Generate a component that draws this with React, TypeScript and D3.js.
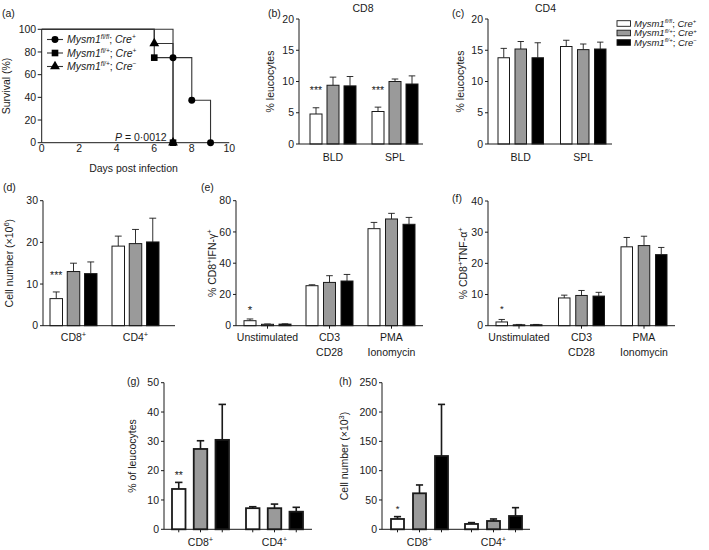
import React from 'react';
import * as d3 from 'd3';

const FONT = "'Liberation Sans', Arial, Helvetica, sans-serif";
const INK = '#1a1a1a';
const FILLS = ['#ffffff', '#9a9a9a', '#000000'];
const SERIES = [0, 1, 2];

// genotype legend
const genotypeAlleles = ['fl/fl', 'fl/+', 'fl/+'];
const genotypeCre = ['+', '+', '−'];

// (a) survival
const survivalXTicks = [0, 2, 4, 6, 8, 10];
const survivalYTicks = [0, 20, 40, 60, 80, 100];
const survFlflCrePosDays = [0, 7, 8, 9];
const survFlflCrePosPct = [100, 75, 37.5, 0];
const survFlpCrePosDays = [0, 6, 7];
const survFlpCrePosPct = [100, 75, 0];
const survFlpCreNegDays = [0, 6, 7];
const survFlpCreNegPct = [100, 87.5, 0];

// (b),(c)
const tissueGroups = ['BLD', 'SPL'];
const pctTicks20 = [0, 5, 10, 15, 20];
const cd8PctMean = [[4.8, 9.4, 9.3], [5.2, 10.0, 9.6]];
const cd8PctSem = [[1.0, 1.3, 1.5], [0.7, 0.4, 1.3]];
const cd4PctMean = [[13.8, 15.2, 13.8], [15.6, 15.1, 15.2]];
const cd4PctSem = [[1.5, 1.2, 2.4], [1.0, 0.9, 1.1]];

// (d)
const cellGroups = ['CD8+', 'CD4+'];
const countTicks30 = [0, 10, 20, 30];
const cellCountMean = [[6.5, 13.0, 12.5], [19.1, 19.7, 20.1]];
const cellCountSem = [[1.6, 2.0, 2.8], [2.4, 3.4, 5.7]];

// (e),(f)
const stimGroups = ['Unstimulated', 'CD3\nCD28', 'PMA\nIonomycin'];
const ifnTicks = [0, 20, 40, 60, 80];
const ifnMean = [[3.2, 0.9, 1.0], [25.6, 27.7, 28.6], [62.1, 68.3, 64.9]];
const ifnSem = [[1.1, 0.2, 0.2], [0.6, 4.3, 4.2], [4.0, 3.6, 4.4]];
const tnfTicks = [0, 10, 20, 30, 40];
const tnfMean = [[1.2, 0.3, 0.3], [8.9, 9.7, 9.5], [25.3, 25.7, 22.8]];
const tnfSem = [[0.8, 0.1, 0.1], [0.9, 1.6, 1.2], [3.0, 3.0, 2.3]];

// (g),(h)
const lungPctTicks = [0, 10, 20, 30, 40, 50];
const lungPctMean = [[13.75, 27.4, 30.5], [7.2, 7.2, 6.0]];
const lungPctSem = [[2.25, 2.8, 12.1], [0.5, 1.4, 1.5]];
const lungCountTicks = [0, 50, 100, 150, 200, 250];
const lungCountMean = [[17.6, 61.4, 125], [9.1, 14.2, 22.7]];
const lungCountSem = [[4.0, 14.2, 88], [2.3, 3.4, 14.2]];

// significance marks
const starsB = [{ group: 'BLD', label: '***', value: 9 }, { group: 'SPL', label: '***', value: 9 }];
const starsD = [{ group: 'CD8+', label: '***', value: 12.6 }];
const starsE = [{ group: 'Unstimulated', label: '*', value: 12 }];
const starsF = [{ group: 'Unstimulated', label: '*', value: 6.3 }];
const starsG = [{ group: 'CD8+', label: '**', value: 19.3 }];
const starsH = [{ group: 'CD8+', label: '*', value: 38.6 }];

function supPlus(s: string) {
  if (s.endsWith('+')) {
    return (
      <>
        {s.slice(0, -1)}
        <tspan dy={-4} fontSize={7.5}>+</tspan>
      </>
    );
  }
  return s;
}

function Geno({ i, size = 10 }: { i: number; size?: number }) {
  const sup = size * 0.62;
  const rise = size * 0.38;
  return (
    <>
      <tspan>Mysm1</tspan>
      <tspan dy={-rise} fontSize={sup}>{genotypeAlleles[i]}</tspan>
      <tspan dy={rise} fontStyle="normal">; </tspan>
      <tspan>Cre</tspan>
      <tspan dy={-rise} fontSize={sup}>{genotypeCre[i]}</tspan>
    </>
  );
}

type Star = { group: string; label: string; value: number };

interface BarPanelProps {
  tag: string; tagX: number; tagY: number;
  title?: string; titleX?: number;
  yTitle: React.ReactNode; yTitleX: number;
  axisX: number; axisEnd: number; y0: number; y1: number;
  yMax: number; yTicks: number[];
  groups: string[]; labelY: number;
  means: number[][]; sems: number[][];
  barStart: number; barEnd: number; groupW: number; barW: number;
  stroke: number; stars: Star[]; xTicks: 'none' | 'group' | 'bar';
  starSize?: number;
}

function BarPanel(p: BarPanelProps) {
  const y = d3.scaleLinear().domain([0, p.yMax]).range([p.y0, p.y1]);
  const n = p.groups.length;
  const gStep = (p.barEnd - p.barStart - p.groupW) / (n - 1);
  const gx = d3.scaleBand<string>().domain(p.groups).range([p.barStart, p.barEnd])
    .paddingInner(1 - p.groupW / gStep).paddingOuter(0);
  const bw = gx.bandwidth();
  const iStep = (bw - p.barW) / 2;
  const ix = d3.scaleBand<number>().domain(SERIES).range([0, bw])
    .paddingInner(1 - p.barW / iStep).paddingOuter(0);
  const w = ix.bandwidth();
  const capW = w * 0.55;
  const starSize = p.starSize ?? 10.5;
  return (
    <g>
      <text x={p.tagX} y={p.tagY}>{p.tag}</text>
      {p.title && <text x={p.titleX} y={12} textAnchor="middle">{p.title}</text>}
      <text transform={`translate(${p.yTitleX},${(p.y0 + p.y1) / 2}) rotate(-90)`} textAnchor="middle">{p.yTitle}</text>
      {/* error bars */}
      {p.groups.map((g, gi) => SERIES.map(s => {
        const cx = (gx(g) as number) + (ix(s) as number) + w / 2;
        const top = y(p.means[gi][s] + p.sems[gi][s]);
        return (
          <g key={`e${g}${s}`} stroke={INK} strokeWidth={p.stroke * 0.9}>
            <line x1={cx} x2={cx} y1={y(p.means[gi][s])} y2={top} />
            <line x1={cx - capW / 2} x2={cx + capW / 2} y1={top} y2={top} />
          </g>
        );
      }))}
      {/* bars */}
      {p.groups.map((g, gi) => SERIES.map(s => {
        const v = p.means[gi][s];
        return (
          <rect key={`b${g}${s}`} x={(gx(g) as number) + (ix(s) as number)} y={y(v)}
            width={w} height={y(0) - y(v)} fill={FILLS[s]} stroke={INK} strokeWidth={p.stroke} />
        );
      }))}
      {/* axes */}
      <line x1={p.axisX} x2={p.axisX} y1={y(0)} y2={y(p.yMax)} stroke={INK} />
      {p.yTicks.map(t => (
        <g key={t}>
          <line x1={p.axisX - 3} x2={p.axisX} y1={y(t)} y2={y(t)} stroke={INK} />
          <text x={p.axisX - 5} y={y(t)} dy="0.35em" textAnchor="end">{t}</text>
        </g>
      ))}
      <line x1={p.axisX} x2={p.axisEnd} y1={y(0)} y2={y(0)} stroke={INK} />
      {p.xTicks === 'group' && p.groups.map(g => {
        const cx = (gx(g) as number) + bw / 2;
        return <line key={`t${g}`} x1={cx} x2={cx} y1={y(0)} y2={y(0) + 3} stroke={INK} />;
      })}
      {p.xTicks === 'bar' && p.groups.map(g => SERIES.map(s => {
        const cx = (gx(g) as number) + (ix(s) as number) + w / 2;
        return <line key={`t${g}${s}`} x1={cx} x2={cx} y1={y(0)} y2={y(0) + 3} stroke={INK} />;
      }))}
      {/* group labels */}
      {p.groups.map(g => g.split('\n').map((ln, li) => (
        <text key={`l${g}${li}`} x={(gx(g) as number) + bw / 2} y={p.labelY + li * 14.5} textAnchor="middle">{supPlus(ln)}</text>
      )))}
      {/* stars */}
      {p.stars.map(st => (
        <text key={`s${st.group}`} x={(gx(st.group) as number) + (ix(0) as number) + w / 2}
          y={y(st.value) + starSize * 0.58} textAnchor="middle" fontSize={starSize}>{st.label}</text>
      ))}
    </g>
  );
}

function SurvivalPanel() {
  const x = d3.scaleLinear().domain([0, 10]).range([41.7, 229.3]);
  const y = d3.scaleLinear().domain([0, 100]).range([142.7, 29.3]);
  const line = d3.line<[number, number]>().x(d => x(d[0])).y(d => y(d[1])).curve(d3.curveStepAfter);
  const series = [
    { days: survFlpCreNegDays, pct: survFlpCreNegPct, sym: d3.symbolTriangle, size: 42 },
    { days: survFlpCrePosDays, pct: survFlpCrePosPct, sym: d3.symbolSquare, size: 44 },
    { days: survFlflCrePosDays, pct: survFlflCrePosPct, sym: d3.symbolCircle, size: 38 },
  ];
  const legendOrder = [2, 1, 0];
  const legendY = [39.5, 53, 66.5];
  return (
    <g>
      <text x={2} y={17}>(a)</text>
      <text transform={`translate(10,${(y(0) + y(100)) / 2}) rotate(-90)`} textAnchor="middle">Survival (%)</text>
      <text x={(x(0) + x(10)) / 2 - 2} y={172} textAnchor="middle">Days post infection</text>
      {series.map((s, i) => (
        <path key={`p${i}`} d={line(s.days.map((d, k) => [d, s.pct[k]] as [number, number])) || ''}
          fill="none" stroke="#333" strokeWidth={1.1} />
      ))}
      <line x1={x(0)} x2={x(0)} y1={y(0)} y2={y(100)} stroke={INK} />
      {survivalYTicks.map(t => (
        <g key={t}>
          <line x1={x(0) - 4} x2={x(0)} y1={y(t)} y2={y(t)} stroke={INK} />
          <text x={x(0) - 5.5} y={y(t)} dy="0.35em" textAnchor="end">{t}</text>
        </g>
      ))}
      <line x1={x(0)} x2={x(10)} y1={y(0)} y2={y(0)} stroke={INK} />
      {survivalXTicks.map(t => (
        <text key={t} x={x(t)} y={151.5} textAnchor="middle">{t}</text>
      ))}
      {series.map((s, i) => s.days.slice(1).map((d, k) => (
        <path key={`m${i}${k}`} transform={`translate(${x(d)},${y(s.pct[k + 1])})`}
          d={d3.symbol().type(s.sym).size(s.size)() || ''} fill="#000" />
      )))}
      {legendOrder.map((si, r) => (
        <g key={`lg${r}`}>
          <line x1={47} x2={63} y1={legendY[r]} y2={legendY[r]} stroke="#333" strokeWidth={1.1} />
          <path transform={`translate(55,${legendY[r]})`} d={d3.symbol().type(series[si].sym).size(series[si].size)() || ''} fill="#000" />
          <text x={67} y={legendY[r] + 3.8} fontStyle="italic" fontSize={10.5}><Geno i={r} size={10.5} /></text>
        </g>
      ))}
      <text x={115} y={140.5}><tspan fontStyle="italic">P</tspan> = 0·0012</text>
    </g>
  );
}

function Legend() {
  const rows = [23.5, 33, 42.5];
  return (
    <g>
      {rows.map((ry, i) => (
        <g key={i}>
          <rect x={617} y={ry - 2.8} width={13.5} height={5.6} fill={FILLS[i]} stroke={INK} strokeWidth={0.9} />
          <text x={634} y={ry + 3.3} fontStyle="italic" fontSize={9.5}><Geno i={i} size={9.5} /></text>
        </g>
      ))}
    </g>
  );
}

export default function App() {
  return (
    <svg width={709} height={550} viewBox="0 0 709 550"
      style={{ position: 'absolute', left: 0, top: 0, background: '#fff' }}
      fontFamily={FONT} fontSize={10.5} fill={INK}>
      <rect x={0} y={0} width={709} height={550} fill="#fff" />
      <SurvivalPanel />
      <BarPanel tag="(b)" tagX={268} tagY={17} title="CD8" titleX={363}
        yTitle="% leucocytes" yTitleX={274}
        axisX={299} axisEnd={423} y0={144} y1={19} yMax={20} yTicks={pctTicks20}
        groups={tissueGroups} labelY={161} means={cd8PctMean} sems={cd8PctSem}
        barStart={310} barEnd={418} groupW={46} barW={12} stroke={1} stars={starsB} xTicks="none" />
      <BarPanel tag="(c)" tagX={452} tagY={17} title="CD4" titleX={545.5}
        yTitle="% leucocytes" yTitleX={464}
        axisX={488} axisEnd={612} y0={144} y1={19} yMax={20} yTicks={pctTicks20}
        groups={tissueGroups} labelY={161} means={cd4PctMean} sems={cd4PctSem}
        barStart={498} barEnd={606} groupW={45.5} barW={11.5} stroke={1} stars={[]} xTicks="none" />
      <Legend />
      <BarPanel tag="(d)" tagX={3} tagY={191}
        yTitle={<>Cell number (×10<tspan dy={-4} fontSize={7.5}>6</tspan><tspan dy={4}>)</tspan></>} yTitleX={13}
        axisX={43} axisEnd={175} y0={325.7} y1={200.7} yMax={30} yTicks={countTicks30}
        groups={cellGroups} labelY={341} means={cellCountMean} sems={cellCountSem}
        barStart={50} barEnd={159} groupW={47} barW={12.5} stroke={1} stars={starsD} xTicks="none" />
      <BarPanel tag="(e)" tagX={201} tagY={191}
        yTitle={<>% CD8<tspan dy={-4} fontSize={7.5}>+</tspan><tspan dy={4}>IFN-γ</tspan><tspan dy={-4} fontSize={7.5}>+</tspan></>} yTitleX={216}
        axisX={236} axisEnd={423} y0={325.7} y1={200.7} yMax={80} yTicks={ifnTicks}
        groups={stimGroups} labelY={341} means={ifnMean} sems={ifnSem}
        barStart={244} barEnd={415} groupW={47} barW={12} stroke={1} stars={starsE} xTicks="group" starSize={11.5} />
      <BarPanel tag="(f)" tagX={452} tagY={202}
        yTitle={<>% CD8<tspan dy={-4} fontSize={7.5}>+</tspan><tspan dy={4}>TNF-α</tspan><tspan dy={-4} fontSize={7.5}>+</tspan></>} yTitleX={467}
        axisX={488} axisEnd={675} y0={325.7} y1={201} yMax={40} yTicks={tnfTicks}
        groups={stimGroups} labelY={341} means={tnfMean} sems={tnfSem}
        barStart={496} barEnd={667} groupW={46} barW={11.5} stroke={1} stars={starsF} xTicks="group" starSize={9.5} />
      <BarPanel tag="(g)" tagX={127} tagY={385}
        yTitle="% of leucocytes" yTitleX={136}
        axisX={164} axisEnd={312} y0={529.3} y1={382.7} yMax={50} yTicks={lungPctTicks}
        groups={cellGroups} labelY={546} means={lungPctMean} sems={lungPctSem}
        barStart={172} barEnd={303} groupW={57} barW={13.5} stroke={1.8} stars={starsG} xTicks="bar" />
      <BarPanel tag="(h)" tagX={339} tagY={385}
        yTitle={<>Cell number (×10<tspan dy={-4} fontSize={7.5}>3</tspan><tspan dy={4}>)</tspan></>} yTitleX={348}
        axisX={382} axisEnd={530} y0={529.3} y1={382.7} yMax={250} yTicks={lungCountTicks}
        groups={cellGroups} labelY={546} means={lungCountMean} sems={lungCountSem}
        barStart={391} barEnd={522} groupW={57} barW={13} stroke={1.8} stars={starsH} xTicks="bar" starSize={9.5} />
    </svg>
  );
}
